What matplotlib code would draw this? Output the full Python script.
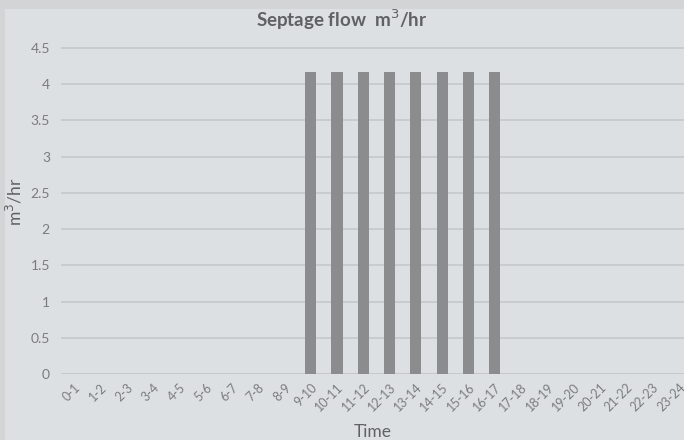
import matplotlib
matplotlib.use('Agg')
import matplotlib.pyplot as plt
import matplotlib.transforms as mtransforms

# hourly slots and septage flow (m3/hr)
time_slots = ['0-1', '1-2', '2-3', '3-4', '4-5', '5-6', '6-7', '7-8', '8-9',
              '9-10', '10-11', '11-12', '12-13', '13-14', '14-15', '15-16',
              '16-17', '17-18', '18-19', '19-20', '20-21', '21-22', '22-23',
              '23-24']
flow = [0, 0, 0, 0, 0, 0, 0, 0, 0,
        4.17, 4.17, 4.17, 4.17, 4.17, 4.17, 4.17, 4.17,
        0, 0, 0, 0, 0, 0, 0]
y_ticks = [0, 0.5, 1, 1.5, 2, 2.5, 3, 3.5, 4, 4.5]

plt.rcParams['font.family'] = ['Lato', 'DejaVu Sans']

bg = '#dde0e3'
txt = '#5f6163'

fig = plt.figure(figsize=(6.84, 4.40), dpi=100, facecolor='#d2d4d6')
fig.patches.append(plt.Rectangle((0.008, 0), 0.992, 0.98, transform=fig.transFigure,
                                 facecolor=bg, edgecolor='none', zorder=-10))
ax = fig.add_axes([61 / 684, 1 - 374 / 440, 623 / 684, (374 - 30) / 440])
ax.set_facecolor(bg)

x = list(range(len(time_slots)))
ax.bar(x, flow, width=0.42, color='#8a8c8e', zorder=3)

ax.set_xlim(-0.5, 23.2)
ax.set_ylim(0, 4.5 * 344 / 326)
ax.set_yticks(y_ticks)
ax.set_yticklabels([('%g' % v) for v in y_ticks], color='#7a7c7e', fontsize=10)
ax.set_xticks(x)
ax.set_xticklabels(time_slots, rotation=45, ha='right', rotation_mode='anchor',
                   color='#7a7c7e', fontsize=9)
# nudge the rotated labels a little to the left so the last one stays inside
shift = mtransforms.ScaledTranslation(-4 / 100, 0, fig.dpi_scale_trans)
for lbl in ax.get_xticklabels():
    lbl.set_transform(lbl.get_transform() + shift)
ax.tick_params(axis='y', length=0, pad=8)
ax.tick_params(axis='x', length=0, pad=5)
ax.yaxis.grid(True, color='#c6c9cc', linewidth=1.2)
ax.set_axisbelow(True)
for s in ax.spines.values():
    s.set_visible(False)
ax.axhline(0, color='#c6c9cc', linewidth=1.2, zorder=1)

ax.set_ylabel('m$^3$/hr', fontsize=12.5, color=txt, labelpad=4)
ax.set_xlabel('Time', fontsize=12.5, color=txt, labelpad=8)
fig.text(0.5, 1 - 20 / 440, 'Septage flow  m$^3$/hr', ha='center', va='center',
         fontsize=13.5, color=txt, fontweight='bold')

fig.savefig('out.png', dpi=100, facecolor=fig.get_facecolor())
